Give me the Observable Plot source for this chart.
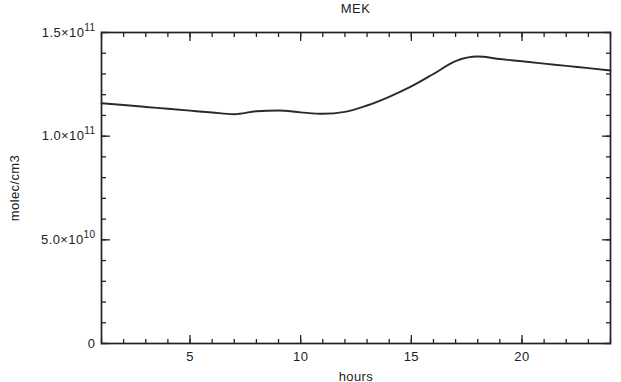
<!DOCTYPE html>
<html>
<head>
<meta charset="utf-8">
<script src="https://cdn.jsdelivr.net/npm/d3@7"></script>
<script src="https://cdn.jsdelivr.net/npm/@observablehq/plot@0.6"></script>
<style>
  html, body { margin: 0; padding: 0; background: #fff; }
  #chart { position: relative; width: 621px; height: 382px; }
  #title { position: absolute; left: 0; top: 1px; width: 711px; text-align: center;
           font: 13px "Liberation Sans", Arial, sans-serif; color: #222; letter-spacing: 0.5px; }
</style>
</head>
<body>
<div id="chart"></div>
<script>
const title = "MEK";
const xLabel = "hours";
const yLabel = "molec/cm3";
const hours = [1, 2, 3, 4, 5, 6, 7, 8, 9, 10, 11, 12, 13, 14, 15, 16, 17, 18, 19, 20, 21, 22, 23, 24];
const mek = [1.159e11, 1.150e11, 1.141e11, 1.132e11, 1.123e11, 1.114e11, 1.106e11, 1.120e11, 1.124e11,
             1.115e11, 1.108e11, 1.117e11, 1.148e11, 1.190e11, 1.240e11, 1.300e11, 1.362e11, 1.384e11,
             1.372e11, 1.361e11, 1.350e11, 1.339e11, 1.328e11, 1.317e11];
const xMajor = [5, 10, 15, 20];
const xMinor = d3.range(1, 25);
const yMajor = [0, 5e10, 1e11, 1.5e11];
const yMajorLabels = ["0", "5.0×10^10", "1.0×10^11", "1.5×10^11"];
const yMinor = d3.range(0, 16).map(d => d * 1e10);

const data = hours.map((h, i) => ({h, v: mek[i]}));
const ink = "#222";
const font = "Liberation Sans, Arial, sans-serif";

const plot = Plot.plot({
  width: 621,
  height: 382,
  marginLeft: 101,
  marginRight: 11,
  marginTop: 32,
  marginBottom: 39,
  style: {fontFamily: font, fontSize: "13px", color: ink, background: "white", letterSpacing: "0.4px"},
  x: {domain: [1, 24]},
  y: {domain: [0, 1.5e11]},
  marks: [
    // minor ticks (inward)
    Plot.axisX({anchor: "bottom", ticks: xMinor, tickSize: -4, text: null, label: null, stroke: ink, strokeWidth: 1.3}),
    Plot.axisX({anchor: "top", ticks: xMinor, tickSize: -4, text: null, label: null, stroke: ink, strokeWidth: 1.3}),
    Plot.axisX({anchor: "bottom", ticks: xMajor, tickSize: -8, text: null, label: null, stroke: ink, strokeWidth: 1.3}),
    Plot.axisX({anchor: "top", ticks: xMajor, tickSize: -8, text: null, label: null, stroke: ink, strokeWidth: 1.3}),
    Plot.axisY({anchor: "left", ticks: yMinor, tickSize: -5, text: null, label: null, stroke: ink, strokeWidth: 1.3}),
    Plot.axisY({anchor: "right", ticks: yMinor, tickSize: -5, text: null, label: null, stroke: ink, strokeWidth: 1.3}),
    Plot.axisY({anchor: "left", ticks: yMajor, tickSize: -9, text: null, label: null, stroke: ink, strokeWidth: 1.3}),
    Plot.axisY({anchor: "right", ticks: yMajor, tickSize: -9, text: null, label: null, stroke: ink, strokeWidth: 1.3}),
    // labels
    Plot.axisX({anchor: "bottom", ticks: xMajor, tickSize: 0, tickPadding: 8, fill: ink,
                label: xLabel, labelAnchor: "center", labelOffset: 37, labelArrow: "none"}),
    Plot.axisY({anchor: "left", ticks: yMajor, tickSize: 0, tickPadding: 6, fill: ink,
                tickFormat: (d) => yMajorLabels[yMajor.indexOf(d)],
                label: yLabel, labelAnchor: "center", labelOffset: 92, labelArrow: "none"}),
    Plot.frame({stroke: ink, strokeWidth: 1.7}),
    Plot.line(data, {x: "h", y: "v", curve: "monotone-x", stroke: "#2a2a2a", strokeWidth: 1.9})
  ]
});

// render exponents as superscripts
d3.select(plot).selectAll("text").each(function () {
  const t = this.textContent;
  if (t.includes("^")) {
    const [base, exp] = t.split("^");
    const sel = d3.select(this);
    sel.text(null);
    sel.append("tspan").text(base);
    sel.append("tspan").attr("dy", "-0.6em").attr("font-size", "10px").text(exp);
  }
});

document.getElementById("chart").appendChild(plot);
const tdiv = document.createElement("div");
tdiv.id = "title";
tdiv.textContent = title;
document.getElementById("chart").appendChild(tdiv);
</script>
</body>
</html>
